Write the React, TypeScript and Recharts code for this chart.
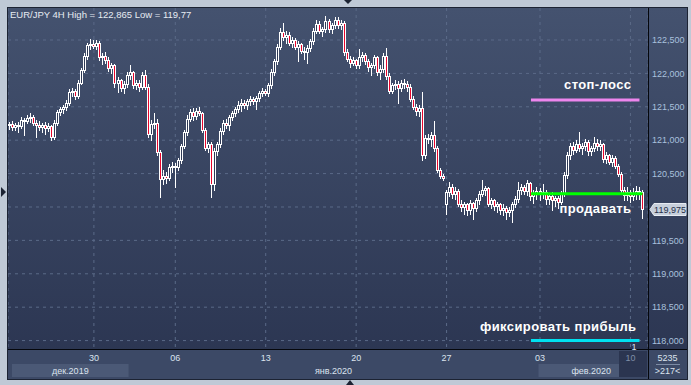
import React from "react";
import {
  ComposedChart,
  Bar,
  XAxis,
  YAxis,
  CartesianGrid,
  ReferenceLine,
  Customized,
} from "recharts";

// EUR/JPY 4H candles: [open, high, low, close]
const ohlc: [number, number, number, number][] = [
  [121.22, 121.27, 121.17, 121.24], [121.24, 121.28, 121.16, 121.2], [121.2, 121.26, 121.15, 121.23], [121.23, 121.27, 121.12, 121.21],
  [121.21, 121.34, 121.18, 121.3], [121.3, 121.33, 121.08, 121.28], [121.28, 121.38, 121.25, 121.33], [121.33, 121.4, 121.27, 121.35],
  [121.35, 121.38, 121.22, 121.26], [121.26, 121.3, 121.05, 121.23], [121.23, 121.28, 121.15, 121.2], [121.2, 121.25, 121.12, 121.22],
  [121.22, 121.27, 121.1, 121.19], [121.19, 121.26, 121.14, 121.21], [121.21, 121.23, 121.0, 121.05], [121.05, 121.3, 121.02, 121.26],
  [121.26, 121.45, 121.22, 121.42], [121.42, 121.5, 121.38, 121.46], [121.46, 121.53, 121.4, 121.5], [121.5, 121.6, 121.45, 121.56],
  [121.56, 121.76, 121.52, 121.72], [121.72, 121.78, 121.66, 121.74], [121.74, 121.76, 121.62, 121.66], [121.66, 121.9, 121.63, 121.86],
  [121.86, 122.08, 121.84, 122.05], [122.05, 122.3, 122.02, 122.26], [122.26, 122.46, 122.22, 122.42], [122.42, 122.52, 122.36, 122.44],
  [122.44, 122.5, 122.38, 122.41], [122.41, 122.5, 122.36, 122.46], [122.46, 122.48, 122.2, 122.24], [122.24, 122.3, 122.14, 122.26],
  [122.26, 122.32, 122.16, 122.2], [122.2, 122.24, 122.04, 122.08], [122.08, 122.15, 122.0, 122.12], [122.12, 122.14, 121.8, 121.86],
  [121.86, 121.95, 121.72, 121.9], [121.9, 121.92, 121.74, 121.78], [121.78, 121.88, 121.7, 121.84], [121.84, 122.02, 121.8, 121.98],
  [121.98, 122.12, 121.92, 122.02], [122.02, 122.04, 121.78, 121.82], [121.82, 121.9, 121.76, 121.86], [121.86, 121.9, 121.74, 121.8],
  [121.8, 122.02, 121.76, 121.98], [121.98, 122.05, 121.76, 121.8], [121.8, 121.84, 121.05, 121.1], [121.1, 121.3, 121.0, 121.24],
  [121.24, 121.4, 121.18, 121.26], [121.26, 121.32, 120.78, 120.82], [120.82, 120.86, 120.15, 120.42], [120.42, 120.55, 120.34, 120.46],
  [120.46, 120.52, 120.36, 120.44], [120.44, 120.64, 120.4, 120.6], [120.6, 120.68, 120.52, 120.62], [120.62, 120.66, 120.3, 120.6],
  [120.6, 120.74, 120.55, 120.7], [120.7, 120.95, 120.66, 120.92], [120.92, 121.16, 120.88, 121.12], [121.12, 121.38, 121.08, 121.32],
  [121.32, 121.46, 121.28, 121.42], [121.42, 121.48, 121.3, 121.36], [121.36, 121.48, 121.32, 121.44], [121.44, 121.5, 121.38, 121.4],
  [121.4, 121.42, 121.12, 121.15], [121.15, 121.18, 120.86, 120.88], [120.88, 120.98, 120.82, 120.94], [120.94, 120.98, 120.15, 120.35],
  [120.35, 120.88, 120.25, 120.84], [120.84, 120.98, 120.78, 120.95], [120.95, 121.18, 120.9, 121.14], [121.14, 121.3, 121.1, 121.26],
  [121.26, 121.32, 121.18, 121.22], [121.22, 121.38, 121.16, 121.35], [121.35, 121.44, 121.3, 121.4], [121.4, 121.5, 121.36, 121.46],
  [121.46, 121.58, 121.42, 121.52], [121.52, 121.62, 121.44, 121.56], [121.56, 121.6, 121.48, 121.52], [121.52, 121.62, 121.46, 121.58],
  [121.58, 121.66, 121.52, 121.62], [121.62, 121.64, 121.54, 121.58], [121.58, 121.66, 121.46, 121.63], [121.63, 121.74, 121.58, 121.7],
  [121.7, 121.78, 121.66, 121.74], [121.74, 121.77, 121.67, 121.7], [121.7, 121.86, 121.66, 121.82], [121.82, 122.06, 121.78, 122.02],
  [122.02, 122.22, 121.98, 122.18], [122.18, 122.44, 122.14, 122.4], [122.4, 122.68, 122.36, 122.62], [122.62, 122.75, 122.5, 122.54],
  [122.54, 122.64, 122.46, 122.58], [122.58, 122.62, 122.42, 122.46], [122.46, 122.54, 122.4, 122.5], [122.5, 122.53, 122.36, 122.4],
  [122.4, 122.48, 122.18, 122.44], [122.44, 122.46, 122.3, 122.34], [122.34, 122.4, 122.22, 122.32], [122.32, 122.42, 122.16, 122.38],
  [122.38, 122.52, 122.34, 122.48], [122.48, 122.68, 122.44, 122.64], [122.64, 122.8, 122.6, 122.74], [122.74, 122.78, 122.6, 122.64],
  [122.64, 122.7, 122.56, 122.66], [122.66, 122.865, 122.62, 122.78], [122.78, 122.82, 122.62, 122.66], [122.66, 122.76, 122.6, 122.72],
  [122.72, 122.85, 122.68, 122.8], [122.8, 122.84, 122.68, 122.72], [122.72, 122.8, 122.66, 122.76], [122.76, 122.78, 122.28, 122.32],
  [122.32, 122.36, 122.18, 122.22], [122.22, 122.26, 122.1, 122.16], [122.16, 122.24, 122.12, 122.2], [122.2, 122.22, 122.08, 122.12],
  [122.12, 122.36, 122.08, 122.24], [122.24, 122.32, 122.18, 122.28], [122.28, 122.3, 122.14, 122.18], [122.18, 122.22, 122.04, 122.1],
  [122.1, 122.16, 121.98, 122.12], [122.12, 122.28, 122.08, 122.24], [122.24, 122.26, 121.98, 122.02], [122.02, 122.12, 121.92, 122.06],
  [122.06, 122.3, 122.02, 122.26], [122.26, 122.38, 121.92, 121.96], [121.96, 122.0, 121.7, 121.74], [121.74, 121.86, 121.7, 121.82],
  [121.82, 121.9, 121.76, 121.84], [121.84, 121.88, 121.56, 121.78], [121.78, 121.9, 121.74, 121.86], [121.86, 121.92, 121.78, 121.84],
  [121.84, 121.88, 121.74, 121.8], [121.8, 121.84, 121.58, 121.62], [121.62, 121.66, 121.46, 121.5], [121.5, 121.54, 121.38, 121.44],
  [121.44, 121.52, 121.36, 121.48], [121.48, 121.72, 120.7, 120.78], [120.78, 121.08, 120.74, 121.04], [121.04, 121.1, 120.96, 121.02],
  [121.02, 121.12, 120.92, 121.08], [121.08, 121.28, 120.84, 120.88], [120.88, 120.92, 120.52, 120.55], [120.55, 120.58, 120.44, 120.47],
  [120.47, 120.5, 120.4, 120.43], [120.05, 120.26, 119.9, 120.22], [120.22, 120.38, 120.16, 120.3], [120.3, 120.34, 120.14, 120.2],
  [120.2, 120.3, 120.12, 120.24], [120.24, 120.27, 120.02, 120.05], [120.05, 120.1, 119.94, 120.0], [120.0, 120.08, 119.9, 120.04],
  [120.04, 120.06, 119.88, 119.95], [119.95, 120.1, 119.9, 120.06], [120.06, 120.08, 119.82, 119.98], [119.98, 120.14, 119.94, 120.1],
  [120.1, 120.24, 120.04, 120.2], [120.2, 120.4, 120.16, 120.26], [120.26, 120.32, 120.18, 120.28], [120.28, 120.3, 120.02, 120.05],
  [120.05, 120.14, 119.98, 120.1], [120.1, 120.12, 119.96, 120.01], [120.01, 120.08, 119.92, 120.04], [120.04, 120.06, 119.9, 119.96],
  [119.96, 120.04, 119.88, 119.99], [119.99, 120.02, 119.82, 119.93], [119.93, 120.0, 119.86, 119.95], [119.95, 120.08, 119.77, 120.04],
  [120.04, 120.16, 120.0, 120.12], [120.12, 120.38, 120.08, 120.26], [120.26, 120.34, 120.2, 120.3], [120.3, 120.33, 120.2, 120.24],
  [120.24, 120.4, 120.18, 120.36], [120.36, 120.38, 120.1, 120.16], [120.16, 120.25, 120.06, 120.2], [120.2, 120.3, 120.12, 120.24],
  [120.24, 120.28, 120.1, 120.2], [120.2, 120.34, 120.14, 120.22], [120.22, 120.25, 120.04, 120.12], [120.12, 120.2, 120.04, 120.16],
  [120.16, 120.22, 119.96, 120.1], [120.1, 120.16, 120.02, 120.13], [120.13, 120.16, 119.98, 120.08], [120.08, 120.24, 120.04, 120.2],
  [120.2, 120.52, 120.16, 120.48], [120.48, 120.82, 120.44, 120.78], [120.78, 120.96, 120.72, 120.92], [120.92, 120.98, 120.8, 120.86],
  [120.86, 121.0, 120.82, 120.95], [120.95, 121.12, 120.84, 120.88], [120.88, 120.96, 120.8, 120.92], [120.92, 121.02, 120.86, 120.98],
  [120.98, 121.0, 120.78, 120.84], [120.84, 120.92, 120.78, 120.88], [120.88, 121.05, 120.84, 120.96], [120.96, 121.02, 120.86, 120.92],
  [120.92, 121.0, 120.86, 120.94], [120.94, 120.96, 120.68, 120.72], [120.72, 120.82, 120.66, 120.78], [120.78, 120.8, 120.64, 120.68],
  [120.68, 120.78, 120.62, 120.74], [120.74, 120.76, 120.58, 120.62], [120.62, 120.64, 120.46, 120.5], [120.5, 120.52, 120.22, 120.26],
  [120.26, 120.3, 120.1, 120.18], [120.18, 120.3, 120.1, 120.22], [120.22, 120.26, 120.08, 120.16], [120.16, 120.28, 120.1, 120.2],
  [120.2, 120.32, 120.12, 120.24], [120.24, 120.3, 120.12, 120.22], [120.22, 120.26, 119.84, 119.975],
];

const weekTicks = [28, 55, 85, 115, 145, 176, 206];
const weekLabels = ["30", "06", "13", "20", "27", "03", "10"];
const monthStarts = [0, 40, 176];
const monthLabels = ["дек.2019", "янв.2020", "фев.2020"];
const gridLevels = [118, 118.5, 119, 119.5, 120, 120.5, 121, 121.5, 122, 122.5];
// the 120,000 label sits under the last-price tag, so it is not drawn
const priceTicks = [118, 118.5, 119, 119.5, 120.5, 121, 121.5, 122, 122.5];

const stopLoss = 121.6;
const sellLevel = 120.2;
const takeProfit = 118.0;
const levelFrom = 173;
const stopTo = 209;
const sellTo = 210;
const profitTo = 209;

const data = ohlc.map(([o, h, l, c], i) => ({ i, o, h, l, c }));
const lastClose = ohlc[ohlc.length - 1][3];
const hiAll = Math.max(...ohlc.map((d) => d[1]));
const loAll = Math.min(...ohlc.map((d) => d[2]));

const FONT = "'Liberation Sans', Arial, sans-serif";
const RED = "#e8062c";
const BODY = "#2f3a56";
const W = 691;
const H = 385;
const PLOT_R = 648;
const PAD_R = 4;
const BAND = (PLOT_R - 8 - PAD_R) / ohlc.length;

const fmt = (v: number) => v.toFixed(3).replace(".", ",");

function Candle(props: any) {
  const { x, y, width, height, payload } = props;
  const { o, h, l, c } = payload;
  const top = Math.min(y, y + height);
  const bot = Math.max(y, y + height);
  const k = h === l ? 0 : (bot - top) / (h - l);
  const py = (p: number) => Math.round(top + (h - p) * k) + 0.5;
  const cx = Math.round(x + width / 2 - 0.5) + 0.5;
  const yo = py(o);
  const yc = py(c);
  const bt = Math.min(yo, yc);
  const bb = Math.max(yo, yc);
  return (
    <g shapeRendering="crispEdges">
      <line x1={cx} x2={cx} y1={Math.round(top)} y2={Math.round(bot) + 1} stroke="#ffffff" />
      <rect
        x={cx - 1}
        y={bt}
        width={2}
        height={Math.max(bb - bt, 1)}
        fill={c < o ? RED : BODY}
        stroke="#ffffff"
        strokeWidth={1}
      />
    </g>
  );
}

function WeekTick(props: any) {
  const { x, payload } = props;
  const k = weekTicks.indexOf(payload.value);
  const last = k === weekTicks.length - 1;
  return (
    <g>
      {last && (
        <rect x={Math.round(x) - 11} y={351} width={PLOT_R - Math.round(x) + 10} height={13} fill="#2b3550" />
      )}
      <text
        x={x}
        y={361}
        textAnchor="middle"
        fill={last ? "#7f8ea8" : "#dbe3ee"}
        fontSize={9}
        fontFamily={FONT}
      >
        {weekLabels[k]}
      </text>
    </g>
  );
}

function MonthTick(props: any) {
  const { x, payload } = props;
  const k = monthStarts.indexOf(payload.value);
  const end = k + 1 < monthStarts.length ? monthStarts[k + 1] : ohlc.length;
  const x0 = Math.max(x - BAND / 2, 12);
  const x1 = Math.min(x - BAND / 2 + (end - payload.value) * BAND, PLOT_R);
  const lastWeekX = x + (weekTicks[weekTicks.length - 1] - payload.value) * BAND;
  return (
    <g>
      {k % 2 === 0 && <rect x={x0} y={364} width={x1 - x0} height={13} fill="#4b5976" />}
      <text x={(x0 + x1) / 2} y={374} textAnchor="middle" fill="#dbe3ee" fontSize={9} fontFamily={FONT}>
        {monthLabels[k]}
      </text>
      {k === monthStarts.length - 1 && (
        <rect
          x={Math.round(lastWeekX) - 11}
          y={364}
          width={PLOT_R - Math.round(lastWeekX) + 10}
          height={13}
          fill="#2b3550"
        />
      )}
    </g>
  );
}

const levelLabel =
  (text: string, dx: number, dy: number, extra?: string) =>
  (p: any) => {
    const vb = p.viewBox;
    const xr = vb.x + vb.width;
    return (
      <g>
        <text
          x={xr + dx}
          y={vb.y + dy}
          textAnchor="end"
          fill="#ffffff"
          fontSize={13}
          fontWeight="bold"
          letterSpacing={0.4}
          fontFamily={FONT}
        >
          {text}
        </text>
        {extra && (
          <text x={xr - 8} y={vb.y + 9} fill="#dfe6f0" fontSize={9} fontFamily={FONT}>
            {extra}
          </text>
        )}
      </g>
    );
  };

function PriceTag(p: any) {
  const { x, width, y } = p.viewBox;
  const cy = Math.round(y) + 0.5;
  const xr = x + width;
  return (
    <g>
      <polygon
        points={`${xr + 2},${cy} ${xr + 6},${cy - 6} ${xr + 38},${cy - 6} ${xr + 38},${cy + 6} ${xr + 6},${cy + 6}`}
        fill="#c7cfdb"
        stroke="#e6ebf2"
      />
      <text x={xr + 22} y={cy + 3.5} textAnchor="middle" fontSize={9} fill="#25304a" fontFamily={FONT}>
        {fmt(lastClose)}
      </text>
    </g>
  );
}

function Decor() {
  return (
    <g>
      <text x={10} y={18} fill="#e6ebf2" fontSize={9.5} fontFamily={FONT}>
        {`EUR/JPY 4H  High = ${String(hiAll).replace(".", ",")} Low = ${String(loAll).replace(".", ",")}`}
      </text>
      <line x1={648.5} y1={8} x2={648.5} y2={379} stroke="#05070c" />
      <line x1={8} y1={349.5} x2={687} y2={349.5} stroke="#05070c" />
      <rect x={7.5} y={7.5} width={680} height={372} fill="none" stroke="#1c2333" />
      <text x={667.5} y={361} textAnchor="middle" fill="#dbe3ee" fontSize={9} fontFamily={FONT}>
        5235
      </text>
      <line x1={656} y1={364.5} x2={680} y2={364.5} stroke="#7c8ba4" />
      <text x={667.5} y={374} textAnchor="middle" fill="#dbe3ee" fontSize={9} fontFamily={FONT}>
        {">217<"}
      </text>
      <polygon points="1,187 6,192 1,197" fill="#1c2333" />
      <polygon points="344,0 352,0 348,4" fill="#1c2333" />
      <polygon points="346,385 354,385 350,380" fill="#1c2333" />
    </g>
  );
}

export default function App() {
  return (
    <div style={{ position: "absolute", left: 0, top: 0, width: W, height: H, background: "#bfc9d6" }}>
      <div
        style={{
          position: "absolute",
          left: 8,
          top: 8,
          width: 679,
          height: 371,
          background: "linear-gradient(to bottom, #44526f 0%, #2a3450 100%)",
        }}
      />
      <div style={{ position: "absolute", left: 8, top: 350, width: 679, height: 29, background: "#3c4966" }} />
      <div style={{ position: "absolute", left: 0, top: 0 }}>
        <ComposedChart
          width={W}
          height={H}
          data={data}
          margin={{ top: 8, right: 5, bottom: 7, left: 8 }}
          barCategoryGap={0}
        >
          <CartesianGrid stroke="#5b6a88" strokeDasharray="3 4" horizontalValues={gridLevels} />
          <XAxis
            dataKey="i"
            type="category"
            ticks={weekTicks}
            interval={0}
            height={15}
            axisLine={false}
            tickLine={false}
            padding={{ left: 0, right: PAD_R }}
            tick={WeekTick}
          />
          <XAxis
            xAxisId="m"
            dataKey="i"
            type="category"
            ticks={monthStarts}
            interval={0}
            height={14}
            axisLine={false}
            tickLine={false}
            padding={{ left: 0, right: PAD_R }}
            tick={MonthTick}
          />
          <YAxis
            orientation="right"
            type="number"
            domain={[117.874, 122.979]}
            allowDataOverflow
            ticks={priceTicks}
            width={38}
            tickSize={0}
            tickMargin={4}
            axisLine={false}
            tickLine={false}
            tick={{ fill: "#a9c1dd", fontSize: 9, fontFamily: FONT }}
            tickFormatter={fmt}
          />
          <Bar dataKey={(d: any) => [d.l, d.h]} shape={Candle} isAnimationActive={false} />
          <ReferenceLine
            segment={[{ x: levelFrom, y: stopLoss }, { x: stopTo, y: stopLoss }]}
            stroke="#ee86ee"
            strokeWidth={3}
            label={levelLabel("стоп-лосс", -8, -11)}
          />
          <ReferenceLine
            segment={[{ x: levelFrom, y: sellLevel }, { x: sellTo, y: sellLevel }]}
            stroke="#00ff00"
            strokeWidth={3}
            label={levelLabel("продавать", -11, 19)}
          />
          <ReferenceLine
            segment={[{ x: levelFrom, y: takeProfit }, { x: profitTo, y: takeProfit }]}
            stroke="#00e0f0"
            strokeWidth={3}
            label={levelLabel("фиксировать прибыль", -3, -10, "1")}
          />
          <ReferenceLine y={lastClose} stroke="none" label={PriceTag} />
          <Customized component={<Decor />} />
        </ComposedChart>
      </div>
    </div>
  );
}
